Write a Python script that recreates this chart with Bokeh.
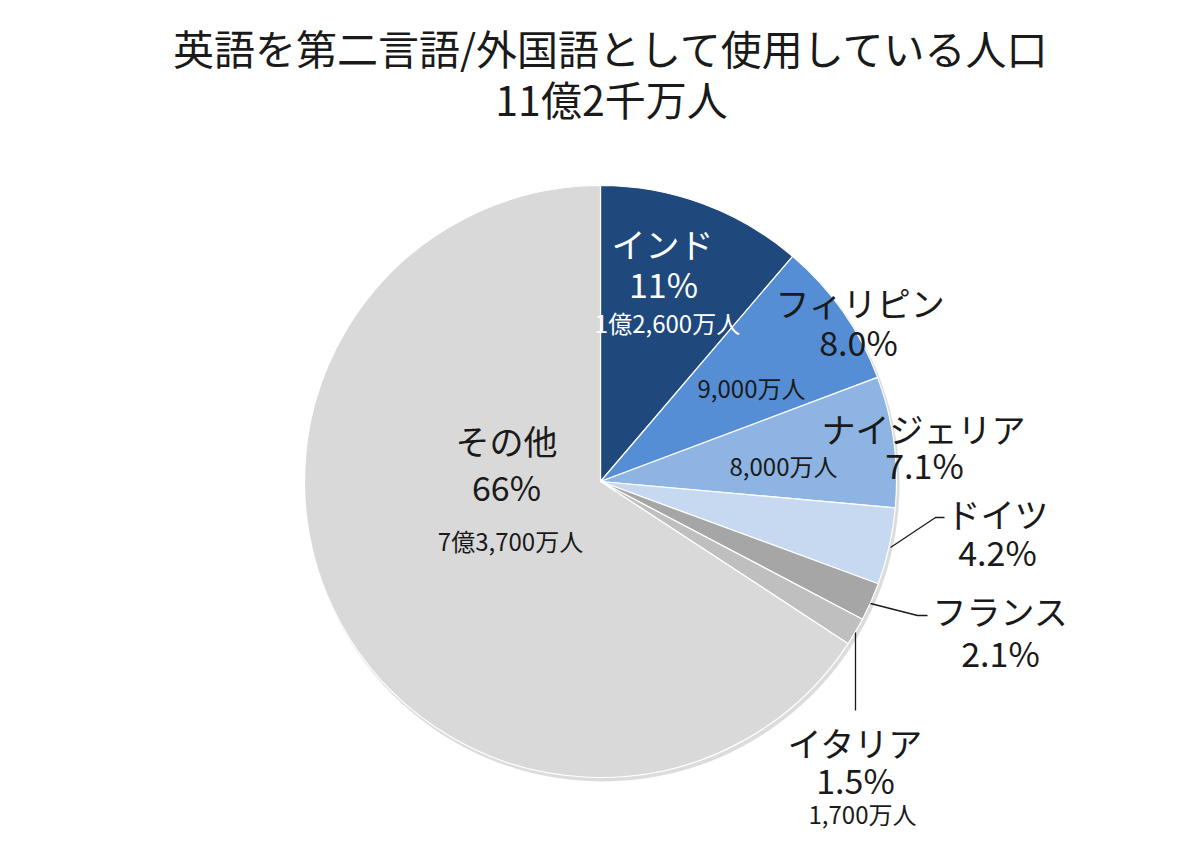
import numpy as np
from bokeh.plotting import figure
from bokeh.models import Range1d, ColumnDataSource
from bokeh.core.properties import value
from bokeh.embed import file_html
from bokeh.resources import INLINE

# ---- data ----
countries = ["インド", "フィリピン", "ナイジェリア", "ドイツ", "フランス", "イタリア", "その他"]
population_man = [12600, 9000, 8000, 4700, 2350, 1700, 73700]  # 万人
percent_labels = ["11%", "8.0%", "7.1%", "4.2%", "2.1%", "1.5%", "66%"]
population_labels = ["1億2,600万人", "9,000万人", "8,000万人", "", "", "1,700万人", "7億3,700万人"]
title_lines = ["英語を第二言語/外国語として使用している人口", "11億2千万人"]

# ---- styles / layout ----
colors = ["#1F497D", "#558ED5", "#8DB4E2", "#C6D9F1", "#A6A6A6", "#BFBFBF", "#D9D9D9"]
FONT = value("Noto Sans CJK JP")
cx, cy, R = 600, -481, 296

W, H = 1184, 830
p = figure(width=W, height=H, output_backend="svg", toolbar_location=None,
           x_range=Range1d(0, W), y_range=Range1d(-H, 0),
           min_border=0, outline_line_color=None)
p.axis.visible = False
p.grid.visible = False
p.background_fill_color = "white"

vals = np.array(population_man, dtype=float)
frac = vals / vals.sum()
cum = np.concatenate([[0], np.cumsum(frac)])
start = np.pi / 2 - 2 * np.pi * cum[:-1]
end = np.pi / 2 - 2 * np.pi * cum[1:]

src = ColumnDataSource(dict(start=start, end=end, color=colors, name=countries))

# faint shadow
p.circle(x=[cx + 2], y=[cy - 3], radius=R + 1, fill_color="#9a9a9a", fill_alpha=0.35,
         line_color=None)
p.wedge(x=cx, y=cy, radius=R, start_angle="start", end_angle="end", direction="clock",
        fill_color="color", line_color="white", line_width=1.2, source=src)

# title
p.text(x=[611, 611], y=[-46, -97], text=title_lines, text_font=FONT,
       text_font_size=value("41px"), text_color="#1a1a1a",
       text_align="center", text_baseline="middle")

# label layout (name, percent, population) positions per slice
name_pos = [(662, -243), (860, -302), (923, -428), (997, -513), (1000, -610), (855, -742), (506, -440)]
pct_pos = [(663, -283), (858, -341), (924, -464), (997, -551), (1000, -652), (855, -779), (506, -486)]
pop_pos = [(667, -322), (751, -387), (783, -465), None, None, (862, -813), (510, -540)]
name_colors = ["white", "#1a1a1a", "#1a1a1a", "#1a1a1a", "#1a1a1a", "#1a1a1a", "#1a1a1a"]

p.text(x=[q[0] for q in name_pos], y=[q[1] for q in name_pos], text=countries,
       text_font=FONT, text_font_size=value("34px"), text_color=name_colors,
       text_align="center", text_baseline="middle")
p.text(x=[q[0] for q in pct_pos], y=[q[1] for q in pct_pos], text=percent_labels,
       text_font=FONT, text_font_size=value("34px"), text_color=name_colors,
       text_align="center", text_baseline="middle")

px, py, pt, pc = [], [], [], []
for i, q in enumerate(pop_pos):
    if q is not None and population_labels[i]:
        px.append(q[0]); py.append(q[1]); pt.append(population_labels[i]); pc.append(name_colors[i])
p.text(x=px, y=py, text=pt, text_font=FONT, text_font_size=value("24px"), text_color=pc,
       text_align="center", text_baseline="middle")

# leader lines
p.line(x=[890, 935, 944], y=[-547, -517, -517], line_color="#1a1a1a", line_width=1.3)
p.line(x=[870, 917, 927], y=[-603, -615, -615], line_color="#1a1a1a", line_width=1.3)
p.line(x=[855, 855], y=[-632, -710], line_color="#1a1a1a", line_width=1.3)

open("out.html", "w").write(file_html(p, INLINE))
